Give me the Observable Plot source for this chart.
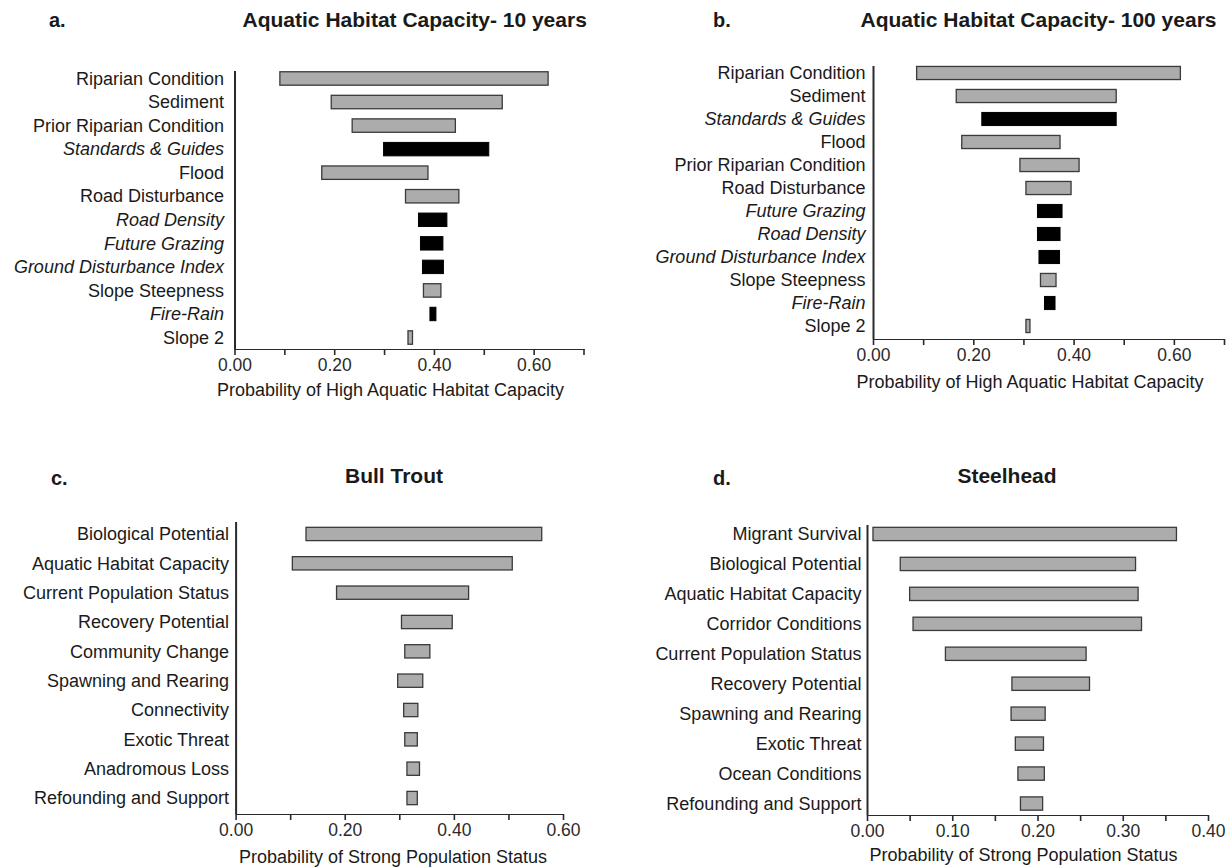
<!DOCTYPE html>
<html>
<head>
<meta charset="utf-8">
<script src="https://cdn.jsdelivr.net/npm/d3@7"></script>
<script src="https://cdn.jsdelivr.net/npm/@observablehq/plot@0.6"></script>
<style>
  html, body { margin: 0; padding: 0; background: #fff; }
  #wrap { position: relative; width: 1232px; height: 868px; overflow: hidden; font-family: "Liberation Sans", Arial, sans-serif; color: #1a1a1a; }
  .panel { position: absolute; }
  .panel svg g[aria-label^="x-axis"] path, .panel svg g[aria-label^="x-axis"] line { stroke-width: 1.6px; }
  .lbl { position: absolute; white-space: nowrap; transform: translate(-50%, -50%); }
  .ttl { font-weight: bold; font-size: 21px; }
  .let { font-weight: bold; font-size: 20px; transform: translate(0, -50%); }
  .axt { font-size: 18px; }
</style>
</head>
<body>
<div id="wrap"></div>
<script>
// ---------- Panel a: Aquatic Habitat Capacity - 10 years ----------
const aNames = ["Riparian Condition", "Sediment", "Prior Riparian Condition", "Standards & Guides", "Flood", "Road Disturbance", "Road Density", "Future Grazing", "Ground Disturbance Index", "Slope Steepness", "Fire-Rain", "Slope 2"];
const aLow  = [0.091, 0.194, 0.236, 0.299, 0.175, 0.343, 0.369, 0.373, 0.377, 0.379, 0.392, 0.348];
const aHigh = [0.629, 0.537, 0.443, 0.510, 0.388, 0.450, 0.426, 0.418, 0.419, 0.414, 0.404, 0.357];
const aManaged = ["Standards & Guides", "Road Density", "Future Grazing", "Ground Disturbance Index", "Fire-Rain"];

// ---------- Panel b: Aquatic Habitat Capacity - 100 years ----------
const bNames = ["Riparian Condition", "Sediment", "Standards & Guides", "Flood", "Prior Riparian Condition", "Road Disturbance", "Future Grazing", "Road Density", "Ground Disturbance Index", "Slope Steepness", "Fire-Rain", "Slope 2"];
const bLow  = [0.087, 0.166, 0.217, 0.177, 0.293, 0.305, 0.328, 0.328, 0.331, 0.334, 0.342, 0.305];
const bHigh = [0.613, 0.485, 0.485, 0.373, 0.411, 0.395, 0.377, 0.373, 0.372, 0.365, 0.363, 0.313];
const bManaged = ["Standards & Guides", "Future Grazing", "Road Density", "Ground Disturbance Index", "Fire-Rain"];

// ---------- Panel c: Bull Trout ----------
const cNames = ["Biological Potential", "Aquatic Habitat Capacity", "Current Population Status", "Recovery Potential", "Community Change", "Spawning and Rearing", "Connectivity", "Exotic Threat", "Anadromous Loss", "Refounding and Support"];
const cLow  = [0.129, 0.104, 0.185, 0.304, 0.310, 0.297, 0.308, 0.310, 0.314, 0.314];
const cHigh = [0.561, 0.507, 0.427, 0.397, 0.356, 0.343, 0.334, 0.333, 0.337, 0.333];
const cManaged = [];

// ---------- Panel d: Steelhead ----------
const dNames = ["Migrant Survival", "Biological Potential", "Aquatic Habitat Capacity", "Corridor Conditions", "Current Population Status", "Recovery Potential", "Spawning and Rearing", "Exotic Threat", "Ocean Conditions", "Refounding and Support"];
const dLow  = [0.007, 0.039, 0.050, 0.054, 0.092, 0.170, 0.169, 0.174, 0.177, 0.180];
const dHigh = [0.363, 0.315, 0.318, 0.322, 0.257, 0.261, 0.209, 0.207, 0.208, 0.206];
const dManaged = [];

// ---------- Axis ticks ----------
const ticksHab = [0, 0.1, 0.2, 0.3, 0.4, 0.5, 0.6, 0.7];
const labelsHab = [0, 0.2, 0.4, 0.6];
const ticksBull = [0, 0.1, 0.2, 0.3, 0.4, 0.5, 0.6];
const labelsBull = [0, 0.2, 0.4, 0.6];
const ticksSteel = [0, 0.05, 0.1, 0.15, 0.2, 0.25, 0.3, 0.35, 0.4];
const labelsSteel = [0, 0.1, 0.2, 0.3, 0.4];

// ---------- Text ----------
const titles = ["Aquatic Habitat Capacity- 10 years", "Aquatic Habitat Capacity- 100 years", "Bull Trout", "Steelhead"];
const letters = ["a.", "b.", "c.", "d."];
const xTitles = ["Probability of High Aquatic Habitat Capacity", "Probability of High Aquatic Habitat Capacity", "Probability of Strong Population Status", "Probability of Strong Population Status"];

const FONT = '"Liberation Sans", Arial, sans-serif';
const GRAY = "#acacac";
const INK = "#2a2a2a";

function makePanel(names, low, high, managed, ticks, labeled, domain, geo) {
  const rows = names.map((n, i) => ({name: n, lo: low[i], hi: high[i], managed: managed.includes(n)}));
  const fmt = d3.format(".2f");
  return Plot.plot({
    width: geo.width,
    height: geo.height,
    marginTop: geo.mt,
    marginBottom: geo.mb,
    marginLeft: geo.ml,
    marginRight: geo.mr,
    style: {fontFamily: FONT, fontSize: "17.5px", color: INK, background: "transparent", overflow: "visible"},
    x: {
      domain,
      ticks,
      tickFormat: d => labeled.some(t => Math.abs(t - d) < 1e-9) ? fmt(d) : "",
      tickSize: 6,
      tickPadding: 3,
      line: true,
      label: null
    },
    y: {domain: names, range: geo.yRange, paddingInner: geo.pi, paddingOuter: geo.pi / 2, round: false, axis: null},
    marks: [
      Plot.barX(rows.filter(d => !d.managed), {x1: "lo", x2: "hi", y: "name", fill: GRAY, stroke: "#3a3a3a", strokeWidth: 1.3}),
      Plot.barX(rows.filter(d => d.managed), {x1: "lo", x2: "hi", y: "name", fill: "#000", stroke: "#000", strokeWidth: 1}),
      Plot.ruleX([0], {stroke: INK, strokeWidth: 2}),
      Plot.text(rows.filter(d => !d.managed), {x: () => 0, y: "name", text: "name", textAnchor: "end", dx: -geo.dx, fontSize: 18, fill: "#1a1a1a"}),
      Plot.text(rows.filter(d => d.managed), {x: () => 0, y: "name", text: "name", textAnchor: "end", dx: -geo.dx, fontSize: 18, fontStyle: "italic", fill: "#1a1a1a"})
    ]
  });
}

const wrap = document.getElementById("wrap");

const panels = [
  {el: makePanel(aNames, aLow, aHigh, aManaged, ticksHab, labelsHab, [0, 0.7],
     {width: 600, height: 380, mt: 71, mb: 31, ml: 234.5, mr: 16.5, yRange: [66.7, 349.3], pi: 0.43, dx: 11}),
   left: 0, top: 0},
  {el: makePanel(bNames, bLow, bHigh, bManaged, ticksHab, labelsHab, [0, 0.7],
     {width: 616, height: 375, mt: 66, mb: 36, ml: 257, mr: 8, yRange: [61.5, 337.5], pi: 0.43, dx: 8}),
   left: 616, top: 0},
  {el: makePanel(cNames, cLow, cHigh, cManaged, ticksBull, labelsBull, [0, 0.6],
     {width: 600, height: 410, mt: 82, mb: 36, ml: 235.6, mr: 37, yRange: [79.3, 372.7], pi: 0.547, dx: 7}),
   left: 0, top: 440},
  {el: makePanel(dNames, dLow, dHigh, dManaged, ticksSteel, labelsSteel, [0, 0.4],
     {width: 616, height: 410, mt: 85, mb: 35, ml: 251, mr: 24, yRange: [79.0, 378.5], pi: 0.556, dx: 6}),
   left: 616, top: 440}
];

for (const p of panels) {
  const div = document.createElement("div");
  div.className = "panel";
  div.style.left = p.left + "px";
  div.style.top = p.top + "px";
  div.appendChild(p.el);
  wrap.appendChild(div);
}

function addText(text, cls, x, y) {
  const d = document.createElement("div");
  d.className = "lbl " + cls;
  d.style.left = x + "px";
  d.style.top = y + "px";
  d.textContent = text;
  wrap.appendChild(d);
}

const titlePos = [[414.7, 20], [1038.5, 20], [394, 476], [1007, 476]];
const letterPos = [[49, 20], [713, 20], [51, 478], [713, 478]];
const xTitlePos = [[390.5, 390], [1030, 382], [393, 857], [1023.5, 855]];
titles.forEach((t, i) => addText(t, "ttl", titlePos[i][0], titlePos[i][1]));
letters.forEach((t, i) => addText(t, "let", letterPos[i][0], letterPos[i][1]));
xTitles.forEach((t, i) => addText(t, "axt", xTitlePos[i][0], xTitlePos[i][1]));
</script>
</body>
</html>
